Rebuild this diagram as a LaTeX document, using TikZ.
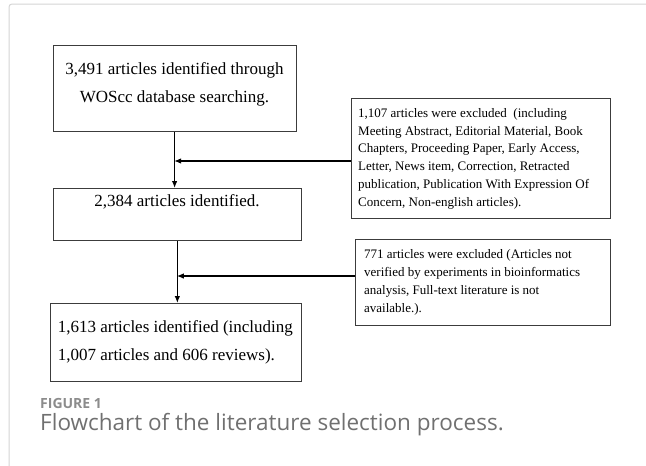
\documentclass[tikz,border=0pt]{standalone}
\usepackage{fontspec}
\setmainfont{Liberation Serif}
\newfontfamily\capfont{Open Sans}
\usetikzlibrary{arrows.meta}
\definecolor{framegray}{HTML}{D4D4D4}
\definecolor{boxline}{HTML}{3C3C3C}
\definecolor{figgray}{HTML}{8C8C8C}
\definecolor{capgray}{HTML}{707070}
\tikzset{
  flowbox/.style={draw=boxline, line width=1pt, inner sep=0pt, anchor=north west},
  bigtext/.style={font=\fontsize{17pt}{28pt}\selectfont, inner sep=0pt, text=black},
  smalltext/.style={font=\fontsize{13pt}{17.8pt}\selectfont, inner sep=0pt, text=black, align=left, anchor=north west},
  arr/.style={draw=black, line width=1.2pt, -{Latex[length=7pt,width=5.5pt]}},
}
\begin{document}
\begin{tikzpicture}[x=1pt,y=-1pt]
\useasboundingbox (0,0) rectangle (646,466);
% page frame
\draw[framegray, line width=1pt, rounded corners=3pt] (9,466) -- (9,4) -- (646,4);
% main boxes
\node[flowbox, minimum width=242.8pt, minimum height=86pt] (b1) at (52.7,45) {};
\node[flowbox, minimum width=248.3pt, minimum height=52pt] (b2) at (52.7,188) {};
\node[flowbox, minimum width=251pt, minimum height=78pt] (b3) at (50,303) {};
% exclusion boxes
\node[flowbox, minimum width=259.4pt, minimum height=120pt] (e1) at (350.6,98) {};
\node[flowbox, minimum width=255pt, minimum height=86pt] (e2) at (355,239) {};
% texts
\node[bigtext, align=center] (t1) at (174.5,84) {3,491 articles identified through\\WOScc database searching.};
\node[bigtext] (t2) at (177,202) {2,384 articles identified.};
\node[bigtext, align=left, anchor=west] (t3) at (57.6,342.5) {1,613 articles identified (including\\1,007 articles and 606 reviews).};
\node[smalltext] (t4) at (358,108) {1,107 articles were excluded\ \ (including\\Meeting Abstract, Editorial Material, Book\\Chapters, Proceeding Paper, Early Access,\\Letter, News item, Correction, Retracted\\publication, Publication With Expression Of\\Concern, Non-english articles).};
\node[smalltext] (t5) at (364,249.5) {771 articles were excluded (Articles not\\verified by experiments in bioinformatics\\analysis, Full-text literature is not\\available.).};
% connectors
\coordinate (j1) at (174.1,161);
\coordinate (j2) at (176.8,276);
\draw[arr] (b1.south) -- (b1.south |- b2.north);
\draw[arr] (e1.west |- j1) -- (j1);
\draw[arr] (b2.south) -- (b2.south |- b3.north);
\draw[arr] (e2.west |- j2) -- (j2);
% caption
\node[font=\capfont\bfseries\fontsize{14pt}{16pt}\selectfont, text=figgray, anchor=west, inner sep=0pt] (fig) at (40,403) {FIGURE 1};
\node[font=\capfont\fontsize{22.5pt}{26pt}\selectfont, text=capgray, anchor=west, inner sep=0pt] (cap) at (40,425) {Flowchart of the literature selection process.};
\end{tikzpicture}
\end{document}
